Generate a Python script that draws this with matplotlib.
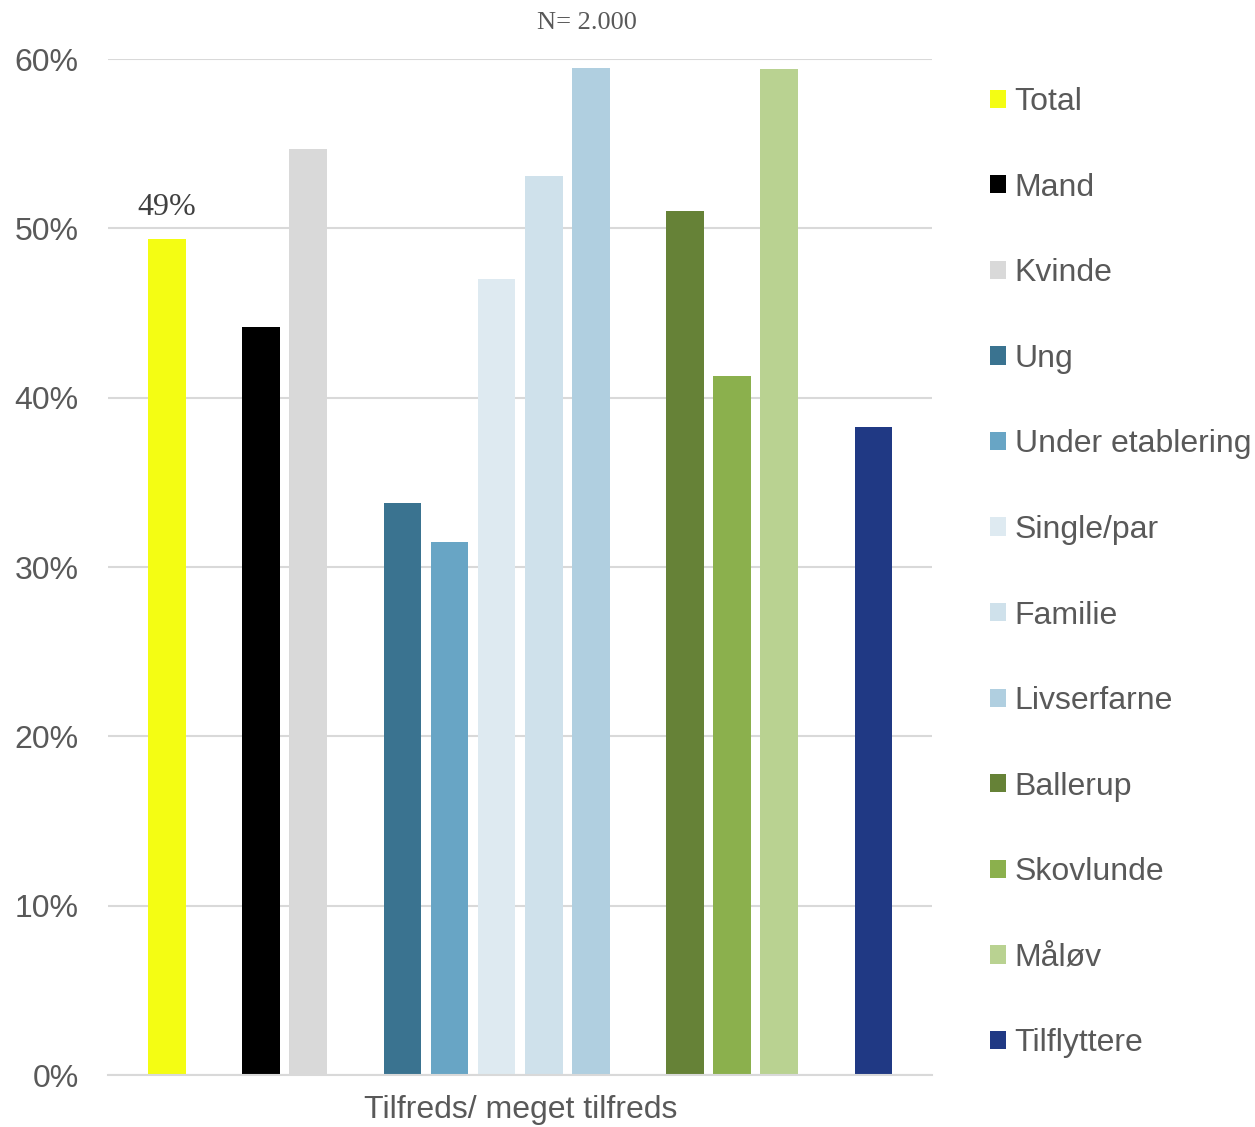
import matplotlib
matplotlib.use("Agg")
import matplotlib.pyplot as plt
from matplotlib.ticker import PercentFormatter
from matplotlib.patches import Patch

# ---- data ----
series = ["Total", "Mand", "Kvinde", "Ung", "Under etablering", "Single/par",
          "Familie", "Livserfarne", "Ballerup", "Skovlunde", "Måløv", "Tilflyttere"]
values = [0.494, 0.442, 0.547, 0.338, 0.315, 0.470, 0.531, 0.595, 0.510, 0.413, 0.594, 0.383]
groups = [0, 1, 1, 2, 2, 2, 2, 2, 3, 3, 3, 4]
colors = ["#F4FD13", "#000000", "#D9D9D9", "#3A7390", "#68A5C5", "#DEEAF1",
          "#CFE1EB", "#B0CFE0", "#668237", "#8BB04D", "#B9D291", "#203984"]
category = "Tilfreds/ meget tilfreds"
yticks = [0, 0.1, 0.2, 0.3, 0.4, 0.5, 0.6]
note = "N= 2.000"
total_label = "49%"

TXT = "#595959"
sans = ["Liberation Sans", "DejaVu Sans"]
serif = ["Liberation Serif", "DejaVu Serif"]

fig = plt.figure(figsize=(12.55, 11.27), dpi=100)
ax = fig.add_axes([0.086, 0.046, 0.657, 0.9016])

positions = [i + g for i, g in enumerate(groups)]
for p, v, c, s in zip(positions, values, colors, series):
    ax.bar(p, v, width=0.8, color=c, label=s, zorder=3)

ax.set_xlim(-1.25, max(positions) + 1.25)
ax.set_ylim(0, 0.6)
ax.set_yticks(yticks)
ax.yaxis.set_major_formatter(PercentFormatter(1.0, decimals=0))
ax.grid(axis="y", color="#D9D9D9", linewidth=1.5, zorder=0)
for sp in ["left", "right", "top"]:
    ax.spines[sp].set_visible(False)
ax.spines["bottom"].set_color("#D9D9D9")
ax.spines["bottom"].set_linewidth(1.5)
ax.spines["bottom"].set_zorder(4)

ax.set_xticks([(min(positions) + max(positions)) / 2])
ax.set_xticklabels([category])
ax.tick_params(axis="x", length=0, pad=14, labelsize=23, labelcolor=TXT)
ax.tick_params(axis="y", length=0, pad=21, labelsize=23, labelcolor=TXT)
for lab in ax.get_xticklabels() + ax.get_yticklabels():
    lab.set_family(sans)

# data label on Total
ax.annotate(total_label, (positions[0], values[0]), xytext=(0, 12),
            textcoords="offset points", ha="center", va="bottom",
            fontsize=23, color="#404040", family=serif)

fig.text(587 / 1255, 1 - 23 / 1127, note, ha="center", va="center",
         fontsize=19, color=TXT, family=serif)

handles = [Patch(facecolor=c, edgecolor="none") for c in colors]
leg = fig.legend(handles, series, loc="upper left",
                 bbox_to_anchor=(990 / 1255, 1 - 87 / 1127),
                 frameon=False, handlelength=0.5, handleheight=0.5,
                 handletextpad=0.27, labelspacing=1.74, borderpad=0, borderaxespad=0,
                 prop={"family": sans, "size": 23})
for t in leg.get_texts():
    t.set_color(TXT)

fig.savefig("out.png", dpi=100)
